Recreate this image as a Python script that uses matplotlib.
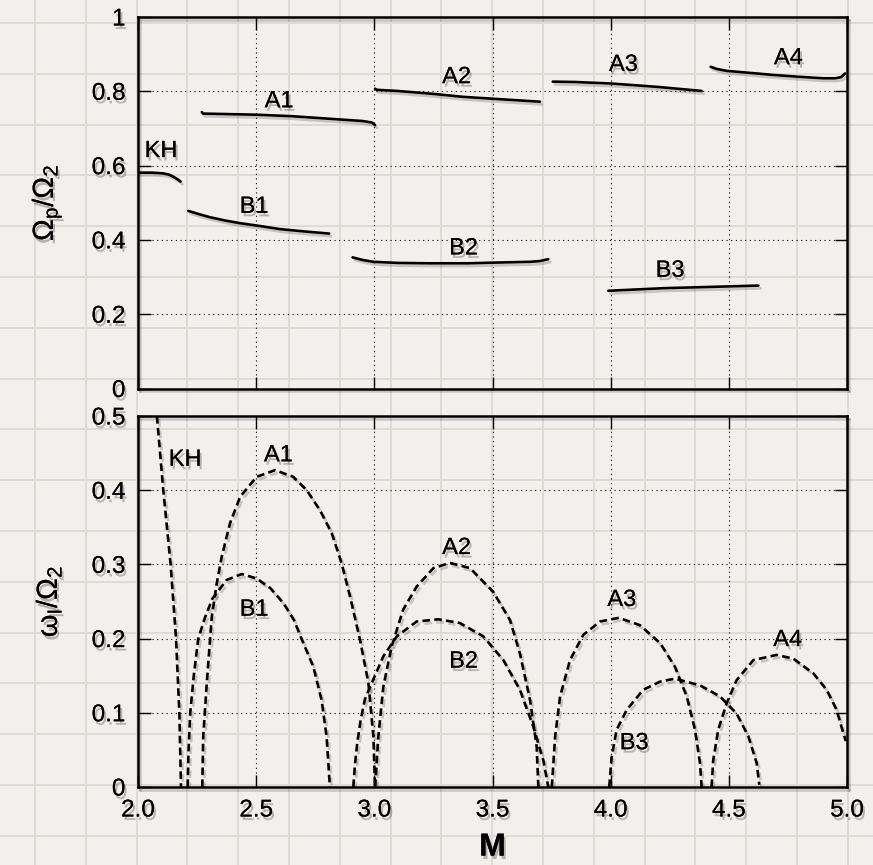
import numpy as np
import matplotlib
matplotlib.use("Agg")
import matplotlib.pyplot as plt
import matplotlib.patheffects as pe

plt.rcParams["font.family"] = ["Liberation Sans", "DejaVu Sans"]
plt.rcParams["mathtext.fontset"] = "custom"
plt.rcParams["mathtext.rm"] = "Liberation Sans"
plt.rcParams["mathtext.it"] = "Liberation Sans"

# ---- top panel: pattern speed (solid lines) ----
kh_top_M = [2.000, 2.060, 2.107, 2.130, 2.150, 2.170, 2.180]
kh_top_y = [0.581, 0.581, 0.579, 0.576, 0.570, 0.562, 0.557]
b1_top_M = [2.213, 2.260, 2.305, 2.370, 2.432, 2.520, 2.601, 2.700, 2.809]
b1_top_y = [0.478, 0.469, 0.461, 0.452, 0.445, 0.437, 0.429, 0.423, 0.417]
a1_top_M = [2.270, 2.275, 2.350, 2.500, 2.650, 2.812, 2.950, 2.990, 3.003]
a1_top_y = [0.744, 0.740, 0.739, 0.737, 0.733, 0.726, 0.720, 0.716, 0.709]
a2_top_M = [3.003, 3.010, 3.095, 3.250, 3.377, 3.550, 3.701]
a2_top_y = [0.807, 0.804, 0.801, 0.793, 0.785, 0.778, 0.772]
b2_top_M = [2.908, 2.950, 2.996, 3.100, 3.236, 3.400, 3.518, 3.659, 3.700, 3.736]
b2_top_y = [0.353, 0.346, 0.341, 0.338, 0.337, 0.337, 0.339, 0.341, 0.343, 0.348]
a3_top_M = [3.755, 3.850, 4.001, 4.195, 4.385]
a3_top_y = [0.826, 0.825, 0.821, 0.812, 0.801]
b3_top_M = [3.990, 4.223, 4.625]
b3_top_y = [0.263, 0.270, 0.277]
a4_top_M = [4.423, 4.450, 4.491, 4.600, 4.688, 4.800, 4.900, 4.950, 4.975, 4.992]
a4_top_y = [0.866, 0.860, 0.855, 0.849, 0.844, 0.839, 0.835, 0.835, 0.838, 0.848]

# ---- bottom panel: growth rate (dashed lines) ----
kh_bot_M = [2.080, 2.107, 2.138, 2.161, 2.175, 2.182]
kh_bot_y = [0.500, 0.400, 0.300, 0.200, 0.100, 0.000]
b1_bot_M = [2.210, 2.214, 2.221, 2.236, 2.255, 2.283, 2.315, 2.375, 2.439, 2.502,
            2.560, 2.615, 2.660, 2.693, 2.742, 2.777, 2.798, 2.812]
b1_bot_y = [0.000, 0.050, 0.100, 0.150, 0.200, 0.228, 0.254, 0.279, 0.287, 0.281,
            0.268, 0.248, 0.225, 0.199, 0.162, 0.117, 0.068, 0.000]
a1_bot_M = [2.272, 2.276, 2.291, 2.312, 2.333, 2.354, 2.389, 2.432, 2.502, 2.580,
            2.657, 2.714, 2.770, 2.820, 2.862, 2.897, 2.939, 2.975, 2.996, 3.003]
a1_bot_y = [0.000, 0.068, 0.140, 0.229, 0.274, 0.310, 0.355, 0.391, 0.418, 0.427,
            0.418, 0.400, 0.373, 0.342, 0.301, 0.257, 0.199, 0.140, 0.068, 0.000]
a2_bot_M = [3.003, 3.017, 3.038, 3.073, 3.122, 3.179, 3.250, 3.320, 3.405, 3.503,
            3.574, 3.616, 3.659, 3.687, 3.694]
a2_bot_y = [0.000, 0.068, 0.135, 0.189, 0.239, 0.270, 0.295, 0.302, 0.295, 0.263,
            0.225, 0.180, 0.117, 0.054, 0.000]
b2_bot_M = [2.911, 2.918, 2.928, 2.942, 2.960, 2.989, 3.038, 3.095, 3.179, 3.271,
            3.362, 3.461, 3.546, 3.616, 3.673, 3.715, 3.736]
b2_bot_y = [0.000, 0.030, 0.060, 0.090, 0.118, 0.140, 0.176, 0.203, 0.223, 0.226,
            0.221, 0.203, 0.171, 0.131, 0.081, 0.036, 0.000]
a3_bot_M = [3.751, 3.765, 3.786, 3.828, 3.884, 3.955, 4.035, 4.124, 4.209, 4.272,
            4.322, 4.357, 4.378, 4.385]
a3_bot_y = [0.000, 0.068, 0.122, 0.171, 0.205, 0.223, 0.228, 0.218, 0.194, 0.162,
            0.122, 0.077, 0.032, 0.000]
b3_bot_M = [3.994, 4.004, 4.025, 4.068, 4.138, 4.209, 4.272, 4.378, 4.463, 4.533,
            4.583, 4.618, 4.629]
b3_bot_y = [0.000, 0.040, 0.077, 0.104, 0.131, 0.142, 0.146, 0.137, 0.122, 0.099,
            0.068, 0.032, 0.003]
a4_bot_M = [4.427, 4.434, 4.455, 4.491, 4.533, 4.604, 4.702, 4.773, 4.858, 4.914,
            4.956, 4.985, 4.995]
a4_bot_y = [0.000, 0.036, 0.077, 0.113, 0.144, 0.171, 0.178, 0.173, 0.153, 0.131,
            0.104, 0.072, 0.062]

top_labels = ["KH", "A1", "B1", "A2", "B2", "A3", "B3", "A4"]
top_label_M = [2.097, 2.597, 2.491, 3.348, 3.377, 4.054, 4.251, 4.752]
top_label_y = [0.639, 0.773, 0.489, 0.838, 0.377, 0.871, 0.317, 0.889]
bot_labels = ["KH", "A1", "B1", "A2", "B2", "A3", "B3", "A4"]
bot_label_M = [2.199, 2.594, 2.491, 3.348, 3.377, 4.047, 4.099, 4.749]
bot_label_y = [0.441, 0.447, 0.239, 0.322, 0.169, 0.252, 0.059, 0.198]

x_ticks = [2.0, 2.5, 3.0, 3.5, 4.0, 4.5, 5.0]
x_ticklabels = ["2.0", "2.5", "3.0", "3.5", "4.0", "4.5", "5.0"]
top_yticks = [0, 0.2, 0.4, 0.6, 0.8, 1.0]
top_yticklabels = ["0", "0.2", "0.4", "0.6", "0.8", "1"]
bot_yticks = [0, 0.1, 0.2, 0.3, 0.4, 0.5]
bot_yticklabels = ["0", "0.1", "0.2", "0.3", "0.4", "0.5"]

W, H = 873, 865
paper = "#f1f0ec"
fig = plt.figure(figsize=(W / 100, H / 100), dpi=100, facecolor=paper)

# squared paper background
bg = fig.add_axes([0, 0, 1, 1], zorder=-5)
bg.set_xlim(0, W)
bg.set_ylim(H, 0)
bg.axis("off")
for gx in np.arange(35, W, 50.8):
    bg.axvline(gx, color="#dddbd6", lw=1.4)
for gy in np.arange(23, H, 50.8):
    bg.axhline(gy, color="#dddbd6", lw=1.4)

txt_fx = [pe.withSimplePatchShadow(offset=(1.5, -2.5), shadow_rgbFace="k", alpha=0.25), pe.Normal()]
line_fx = [pe.SimpleLineShadow(offset=(1.5, -2), shadow_color="k", alpha=0.18), pe.Normal()]

left, width = 138 / W, (847 - 138) / W
ax1 = fig.add_axes([left, 1 - 388.5 / H, width, (388.5 - 17) / H])
ax2 = fig.add_axes([left, 1 - 787 / H, width, (787 - 416) / H])

for ax in (ax1, ax2):
    ax.set_facecolor("none")
    ax.set_xlim(2.0, 5.0)
    ax.set_xticks(x_ticks)
    ax.grid(True, color="k", lw=0.8, linestyle=(0, (1, 3.2)))
    ax.tick_params(direction="in", length=9, width=1.0, top=True, right=True,
                   labelsize=17.5, pad=9)
    for s in ax.spines.values():
        s.set_linewidth(1.8)
        s.set_path_effects(line_fx)

# top panel
ax1.set_ylim(0, 1)
ax1.set_yticks(top_yticks)
ax1.set_yticklabels(top_yticklabels)
ax1.set_xticklabels([])
for Ms, ys in [(kh_top_M, kh_top_y), (b1_top_M, b1_top_y), (a1_top_M, a1_top_y),
               (a2_top_M, a2_top_y), (b2_top_M, b2_top_y), (a3_top_M, a3_top_y),
               (b3_top_M, b3_top_y), (a4_top_M, a4_top_y)]:
    ax1.plot(Ms, ys, color="k", lw=1.9, solid_capstyle="round", path_effects=line_fx)
for lab, mx, my in zip(top_labels, top_label_M, top_label_y):
    ax1.text(mx, my, lab, ha="center", va="center", fontsize=17, path_effects=txt_fx)
ax1.set_ylabel(r"$\Omega_p/\Omega_2$", fontsize=21, labelpad=20, path_effects=txt_fx)

# bottom panel
ax2.set_ylim(0, 0.5)
ax2.set_yticks(bot_yticks)
ax2.set_yticklabels(bot_yticklabels)
ax2.set_xticklabels(x_ticklabels)
for Ms, ys in [(kh_bot_M, kh_bot_y), (b1_bot_M, b1_bot_y), (a1_bot_M, a1_bot_y),
               (a2_bot_M, a2_bot_y), (b2_bot_M, b2_bot_y), (a3_bot_M, a3_bot_y),
               (b3_bot_M, b3_bot_y), (a4_bot_M, a4_bot_y)]:
    ax2.plot(Ms, ys, color="k", lw=1.9, linestyle=(0, (2.9, 1.6)), path_effects=line_fx)
for lab, mx, my in zip(bot_labels, bot_label_M, bot_label_y):
    ax2.text(mx, my, lab, ha="center", va="center", fontsize=17, path_effects=txt_fx)
ax2.set_ylabel(r"$\omega_{I}/\Omega_2$", fontsize=21, labelpad=20, path_effects=txt_fx)
ax2.set_xlabel("M", fontsize=23, fontweight="bold", labelpad=8, path_effects=txt_fx)

for ax in (ax1, ax2):
    for t in ax.get_xticklabels() + ax.get_yticklabels():
        t.set_path_effects(txt_fx)

fig.savefig("out.png", dpi=100, facecolor=paper)
